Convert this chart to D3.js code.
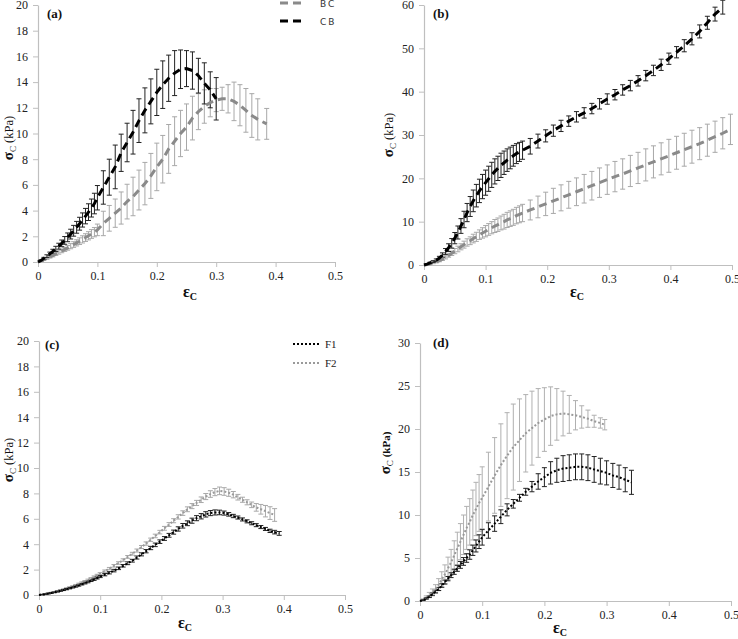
<!DOCTYPE html>
<html><head><meta charset="utf-8">
<script src="https://cdn.jsdelivr.net/npm/d3@7"></script>
<style>body{margin:0;background:#fff}</style>
</head><body>
<svg id="c" width="738" height="639"></svg>
<script>
// ---------- DATA ----------
const xTickValues = [0, 0.1, 0.2, 0.3, 0.4, 0.5];
const yTicksA = [0,2,4,6,8,10,12,14,16,18,20];
const yTicksB = [0,10,20,30,40,50,60];
const yTicksC = [0,2,4,6,8,10,12,14,16,18,20];
const yTicksD = [0,5,10,15,20,25,30];
const panelLabels = ["(a)", "(b)", "(c)", "(d)"];
const legendA = ["BC", "CB"];
const legendC = ["F1", "F2"];

// (a) CB (black dashed)
const aCB_x = [0,0.005,0.01,0.015,0.02,0.025,0.03,0.035,0.04,0.045,0.05,0.055,0.06,0.065,0.07,0.075,0.08,0.085,0.09,0.095,
  0.1,0.11,0.12,0.13,0.14,0.15,0.16,0.17,0.18,0.19,0.2,0.21,0.22,0.23,0.24,0.25,0.26,0.27,0.28,0.29,0.3];
const aCB_y = [0,0.12,0.28,0.45,0.63,0.82,1.02,1.23,1.45,1.68,1.92,2.17,2.43,2.7,2.98,3.27,3.57,3.88,4.2,4.55,
  5.0,5.8,6.6,7.4,8.5,9.3,10.1,11.0,11.8,12.5,13.2,13.8,14.3,14.7,15.0,15.05,14.9,14.5,13.9,13.4,12.7];
const aCB_err = [0,0.05,0.08,0.11,0.14,0.17,0.2,0.23,0.26,0.3,0.34,0.38,0.42,0.46,0.5,0.55,0.6,0.65,0.7,0.8,
  0.95,1.3,1.4,1.7,1.45,1.5,1.7,1.7,1.75,1.75,1.8,1.85,1.8,1.75,1.5,1.4,1.45,1.35,1.6,1.4,1.65];
// (a) BC (gray dashed)
const aBC_x = [0,0.005,0.01,0.015,0.02,0.025,0.03,0.035,0.04,0.045,0.05,0.055,0.06,0.065,0.07,0.075,0.08,0.085,0.09,0.095,
  0.1,0.11,0.12,0.13,0.14,0.15,0.16,0.17,0.18,0.19,0.2,0.21,0.22,0.23,0.24,0.25,0.26,0.27,0.28,0.29,0.3,0.31,0.32,0.33,0.34,0.35,0.36,0.37,0.385];
const aBC_y = [0,0.08,0.18,0.28,0.39,0.5,0.62,0.74,0.86,0.98,1.1,1.23,1.36,1.49,1.62,1.76,1.9,2.04,2.18,2.32,
  2.5,3.0,3.4,3.8,4.2,4.7,5.1,5.6,6.1,6.7,7.4,8.0,8.8,9.4,10.0,10.5,11.2,11.7,12.1,12.4,12.6,12.7,12.7,12.5,12.2,11.8,11.4,11.1,10.75];
const aBC_err = [0,0.04,0.05,0.07,0.08,0.1,0.11,0.13,0.14,0.16,0.18,0.2,0.22,0.24,0.26,0.28,0.3,0.32,0.34,0.36,
  0.45,0.95,1.0,1.1,1.25,1.35,1.5,1.55,1.65,1.75,1.85,1.85,1.9,1.9,1.8,1.8,1.7,1.4,1.3,1.1,0.9,0.9,1.1,1.5,1.6,1.7,1.7,1.6,1.2];

// (b) black dashed
const bBlk_x = [0,0.005,0.01,0.015,0.02,0.025,0.03,0.035,0.04,0.045,0.05,0.055,0.06,0.065,0.07,0.075,0.08,0.085,0.09,0.095,
  0.1,0.105,0.11,0.115,0.12,0.125,0.13,0.135,0.14,0.145,0.15,0.155,0.16,
  0.1725,0.185,0.1975,0.21,0.2225,0.235,0.2475,0.26,0.2725,0.285,0.2975,0.31,0.3225,0.335,0.3475,0.36,0.3725,0.385,0.3975,0.41,0.4225,0.435,0.4475,0.46,0.4725,0.485];
const bBlk_y = [0,0.2,0.5,0.8,1.1,1.6,2.3,3.1,4.0,5.0,6.2,7.5,9.0,10.5,12.1,13.5,14.8,16.0,17.1,18.1,
  19.0,19.9,20.8,21.6,22.3,23.0,23.6,24.2,24.7,25.2,25.7,26.1,26.5,
  27.4,28.6,29.8,31.0,32.1,33.2,34.2,35.1,36.1,37.2,38.3,39.3,40.4,41.4,42.5,43.7,44.9,46.2,47.6,49.1,50.6,52.2,53.9,55.9,57.9,59.5];
const bBlk_err = [0,0.1,0.15,0.2,0.3,0.4,0.5,0.7,0.9,1.1,1.3,1.5,1.7,1.9,2.1,2.3,2.5,2.6,2.7,2.8,
  2.9,2.9,2.9,2.9,2.8,2.8,2.7,2.6,2.5,2.4,2.3,2.2,2.1,
  1.8,1.6,1.4,1.3,1.3,1.2,1.2,1.2,1.2,1.2,1.2,1.2,1.2,1.2,1.2,1.2,1.2,1.3,1.3,1.3,1.4,1.4,1.5,1.5,1.6,1.6];
// (b) gray dashed
const bGry_x = [0,0.005,0.01,0.015,0.02,0.025,0.03,0.035,0.04,0.045,0.05,0.055,0.06,0.065,0.07,0.075,0.08,0.085,0.09,0.095,
  0.1,0.105,0.11,0.115,0.12,0.125,0.13,0.135,0.14,0.145,0.15,0.155,0.16,
  0.1725,0.185,0.1975,0.21,0.2225,0.235,0.2475,0.26,0.2725,0.285,0.2975,0.31,0.3225,0.335,0.3475,0.36,0.3725,0.385,0.3975,0.41,0.4225,0.435,0.4475,0.46,0.4725,0.485,0.4975];
const bGry_y = [0,0.1,0.25,0.45,0.7,1.0,1.35,1.75,2.2,2.7,3.2,3.7,4.2,4.7,5.2,5.6,6.1,6.5,7.0,7.4,
  7.8,8.2,8.6,9.0,9.3,9.7,10.0,10.4,10.7,11.0,11.4,11.7,12.0,
  12.7,13.4,14.1,14.8,15.5,16.2,16.9,17.6,18.3,19.0,19.7,20.4,21.0,21.7,22.4,23.1,23.8,24.5,25.2,25.9,26.6,27.3,28.0,28.8,29.6,30.4,31.3];
const bGry_err = [0,0.05,0.1,0.15,0.2,0.25,0.3,0.35,0.4,0.5,0.6,0.65,0.7,0.8,0.85,0.9,1.0,1.05,1.1,1.2,
  1.3,1.35,1.4,1.5,1.55,1.6,1.7,1.75,1.8,1.85,1.9,1.95,2.0,
  2.3,2.5,2.7,2.9,3.0,3.1,3.2,3.3,3.3,3.4,3.4,3.5,3.5,3.6,3.6,3.7,3.7,3.7,3.8,3.8,3.8,3.8,3.7,3.7,3.6,3.6,3.5];

// (c) F1 black dotted
const cF1_x = [0,0.005,0.01,0.015,0.02,0.025,0.03,0.035,0.04,0.045,0.05,0.055,0.06,0.065,0.07,0.075,0.08,0.085,0.09,0.095,
  0.1,0.1075,0.115,0.1225,0.13,0.1375,0.145,0.1525,0.16,0.1675,0.175,0.1825,0.19,0.1975,0.205,0.2125,0.22,0.2275,0.235,0.2425,
  0.25,0.2575,0.265,0.2725,0.28,0.2875,0.295,0.3025,0.31,0.3175,0.325,0.3325,0.34,0.3475,0.355,0.3625,0.37,0.3775,0.385,0.3925];
const cF1_y = [0,0.03,0.07,0.11,0.16,0.21,0.27,0.33,0.39,0.46,0.53,0.6,0.68,0.76,0.85,0.94,1.03,1.13,1.23,1.34,
  1.45,1.6,1.75,1.92,2.1,2.3,2.5,2.7,2.95,3.2,3.45,3.7,3.95,4.2,4.45,4.7,4.95,5.2,5.45,5.65,
  5.85,6.05,6.2,6.35,6.45,6.5,6.5,6.45,6.35,6.22,6.1,5.95,5.8,5.65,5.5,5.35,5.2,5.05,4.95,4.85];
const cF1_err = [0,0.02,0.02,0.03,0.03,0.03,0.04,0.04,0.04,0.05,0.05,0.05,0.06,0.06,0.06,0.07,0.07,0.07,0.08,0.08,
  0.08,0.09,0.09,0.1,0.1,0.1,0.11,0.11,0.12,0.12,0.13,0.13,0.14,0.14,0.15,0.15,0.16,0.17,0.18,0.19,
  0.2,0.2,0.21,0.21,0.2,0.2,0.18,0.16,0.14,0.13,0.12,0.12,0.12,0.12,0.12,0.12,0.12,0.13,0.14,0.15];
// (c) F2 gray dotted
const cF2_x = [0,0.005,0.01,0.015,0.02,0.025,0.03,0.035,0.04,0.045,0.05,0.055,0.06,0.065,0.07,0.075,0.08,0.085,0.09,0.095,
  0.1,0.1075,0.115,0.1225,0.13,0.1375,0.145,0.1525,0.16,0.1675,0.175,0.1825,0.19,0.1975,0.205,0.2125,0.22,0.2275,0.235,0.2425,
  0.25,0.2575,0.265,0.2725,0.28,0.2875,0.295,0.3025,0.31,0.3175,0.325,0.3325,0.34,0.3475,0.355,0.3625,0.37,0.3775,0.385];
const cF2_y = [0,0.03,0.08,0.13,0.18,0.24,0.3,0.37,0.44,0.52,0.6,0.68,0.77,0.87,0.97,1.07,1.18,1.3,1.42,1.55,
  1.68,1.88,2.08,2.3,2.52,2.75,3.0,3.25,3.5,3.78,4.05,4.35,4.65,4.95,5.25,5.55,5.85,6.15,6.45,6.75,
  7.0,7.25,7.5,7.75,7.95,8.1,8.2,8.15,8.05,7.9,7.7,7.5,7.3,7.1,6.9,6.75,6.6,6.45,6.3];
const cF2_err = [0,0.02,0.02,0.03,0.03,0.03,0.04,0.04,0.04,0.05,0.05,0.05,0.06,0.06,0.06,0.07,0.07,0.07,0.08,0.08,
  0.08,0.09,0.09,0.1,0.1,0.1,0.11,0.11,0.12,0.12,0.13,0.13,0.14,0.14,0.15,0.15,0.16,0.17,0.18,0.19,
  0.2,0.2,0.22,0.24,0.26,0.28,0.3,0.3,0.28,0.25,0.22,0.2,0.2,0.22,0.3,0.38,0.45,0.5,0.5];

// (d) gray dotted
const dGry_x = [0,0.005,0.01,0.015,0.02,0.025,0.03,0.035,0.04,0.045,0.05,0.055,0.06,0.065,0.07,0.075,0.08,0.085,0.09,0.095,
  0.1,0.11,0.12,0.13,0.14,0.15,0.16,0.17,0.18,0.19,0.2,0.21,0.22,0.23,0.24,0.25,0.26,0.27,0.28,0.29,0.297];
const dGry_y = [0,0.15,0.4,0.7,1.0,1.4,1.9,2.5,3.1,3.8,4.5,5.3,6.1,6.9,7.7,8.5,9.2,10.0,10.7,11.4,
  12.0,13.3,14.6,15.8,16.9,17.9,18.7,19.5,20.1,20.7,21.1,21.5,21.7,21.8,21.7,21.6,21.4,21.2,20.9,20.7,20.5];
const dGry_err = [0,0.1,0.2,0.3,0.4,0.5,0.7,0.9,1.1,1.3,1.5,1.7,1.9,2.1,2.3,2.5,2.7,2.9,3.1,3.3,
  3.6,4.0,4.4,4.8,5.0,5.0,4.8,4.5,4.3,4.0,3.7,3.4,3.0,2.6,2.2,1.7,1.3,1.0,0.7,0.6,0.6];
// (d) black dotted
const dBlk_x = [0,0.005,0.01,0.015,0.02,0.025,0.03,0.035,0.04,0.045,0.05,0.055,0.06,0.065,0.07,0.075,0.08,0.085,0.09,0.095,
  0.1,0.11,0.12,0.13,0.14,0.15,0.16,0.17,0.18,0.19,0.2,0.21,0.22,0.23,0.24,0.25,0.26,0.27,0.28,0.29,0.3,0.31,0.32,0.33,0.34];
const dBlk_y = [0,0.1,0.3,0.5,0.8,1.1,1.4,1.8,2.2,2.6,3.0,3.4,3.8,4.2,4.6,5.0,5.4,5.9,6.4,6.9,
  7.4,8.2,9.0,9.8,10.6,11.3,12.0,12.7,13.3,13.9,14.4,14.9,15.2,15.4,15.5,15.6,15.6,15.5,15.3,15.1,14.9,14.6,14.4,14.1,13.8];
const dBlk_err = [0,0.05,0.08,0.1,0.13,0.15,0.18,0.2,0.23,0.25,0.28,0.3,0.35,0.4,0.45,0.5,0.55,0.6,0.7,0.8,
  0.9,0.9,0.9,0.8,0.7,0.5,0.4,0.4,0.6,0.9,1.1,1.3,1.4,1.5,1.5,1.5,1.5,1.5,1.5,1.5,1.4,1.4,1.4,1.4,1.4];

// ---------- DRAW ----------
const svg = d3.select('#c');
svg.append('rect').attr('width',738).attr('height',639).attr('fill','#fff');
const SERIF = "'Liberation Serif','Times New Roman',serif";
const AXIS_COL = '#bfbfbf';

function zip(xs, ys, es){ return xs.map((v,i)=>({x:v, y:ys[i], e:es[i]})); }

const panels = [
  {label:panelLabels[0], left:38, right:335, top:5, bottom:262, yMax:20, yTicks:yTicksA,
   labelPos:[47,18], yTitle:[13,138], xTitle:[190,297], kpaBold:false,
   series:[
     {data:zip(aBC_x,aBC_y,aBC_err), line:'#8a8a8a', bar:'#a8a8a8', dash:'8,5', w:3},
     {data:zip(aCB_x,aCB_y,aCB_err), line:'#000', bar:'#222', dash:'8,5', w:3}
   ]},
  {label:panelLabels[1], left:424, right:732, top:5, bottom:265, yMax:60, yTicks:yTicksB,
   labelPos:[433,18], yTitle:[393,135], xTitle:[577,297], kpaBold:false,
   series:[
     {data:zip(bGry_x,bGry_y,bGry_err), line:'#8a8a8a', bar:'#a8a8a8', dash:'8,5', w:3},
     {data:zip(bBlk_x,bBlk_y,bBlk_err), line:'#000', bar:'#222', dash:'8,5', w:3}
   ]},
  {label:panelLabels[2], left:39, right:345, top:341, bottom:595, yMax:20, yTicks:yTicksC,
   labelPos:[45,349], yTitle:[13,460], xTitle:[185,628], kpaBold:false,
   series:[
     {data:zip(cF2_x,cF2_y,cF2_err), line:'#9a9a9a', bar:'#a8a8a8', dash:'2,2', w:2},
     {data:zip(cF1_x,cF1_y,cF1_err), line:'#000', bar:'#222', dash:'2,2', w:2}
   ]},
  {label:panelLabels[3], left:420, right:731, top:343, bottom:601, yMax:30, yTicks:yTicksD,
   labelPos:[433,347], yTitle:[390,453], xTitle:[560,633], kpaBold:true,
   series:[
     {data:zip(dGry_x,dGry_y,dGry_err), line:'#999', bar:'#b0b0b0', dash:'2,2', w:2},
     {data:zip(dBlk_x,dBlk_y,dBlk_err), line:'#000', bar:'#222', dash:'2,2', w:2}
   ]}
];

panels.forEach(p=>{
  const x = d3.scaleLinear().domain([0,0.5]).range([p.left,p.right]);
  const y = d3.scaleLinear().domain([0,p.yMax]).range([p.bottom,p.top]);
  const g = svg.append('g');

  const xa = g.append('g').attr('transform',`translate(0,${p.bottom})`)
    .call(d3.axisBottom(x).tickValues(xTickValues).tickSize(5).tickSizeOuter(0).tickPadding(4)
      .tickFormat(d=>d===0?'0':d.toFixed(1)));
  const ya = g.append('g').attr('transform',`translate(${p.left},0)`)
    .call(d3.axisLeft(y).tickValues(p.yTicks).tickSize(5).tickSizeOuter(0).tickPadding(5));
  [xa,ya].forEach(a=>{
    a.attr('font-family',SERIF);
    a.select('.domain').attr('stroke',AXIS_COL).attr('stroke-width',1.2);
    a.selectAll('.tick line').attr('stroke',AXIS_COL).attr('stroke-width',1);
    a.selectAll('.tick text').attr('fill','#222').style('font-family',SERIF).style('font-size','12px');
  });

  p.series.forEach(s=>{
    const eb = g.append('g').attr('stroke',s.bar).attr('stroke-width',1).attr('fill','none');
    s.data.filter(d=>d.e>0).forEach(d=>{
      const cx = x(d.x), t = y(d.y+d.e), b = y(d.y-d.e);
      eb.append('line').attr('x1',cx).attr('x2',cx).attr('y1',t).attr('y2',b);
      eb.append('line').attr('x1',cx-2.5).attr('x2',cx+2.5).attr('y1',t).attr('y2',t);
      eb.append('line').attr('x1',cx-2.5).attr('x2',cx+2.5).attr('y1',b).attr('y2',b);
    });
  });
  p.series.forEach(s=>{
    g.append('path').datum(s.data)
      .attr('d', d3.line().x(d=>x(d.x)).y(d=>y(d.y)))
      .attr('fill','none').attr('stroke',s.line).attr('stroke-width',s.w)
      .attr('stroke-dasharray',s.dash);
  });

  // panel label
  g.append('text').attr('x',p.labelPos[0]).attr('y',p.labelPos[1])
    .style('font-family',SERIF).style('font-size','13px').style('font-weight','bold').attr('fill','#111')
    .text(p.label);

  // y title
  const yt = g.append('text').attr('transform',`translate(${p.yTitle[0]},${p.yTitle[1]}) rotate(-90)`)
    .attr('text-anchor','middle').style('font-family',SERIF).attr('fill','#111');
  yt.append('tspan').style('font-size','15px').style('font-weight','bold').text('σ');
  yt.append('tspan').style('font-size','9px').attr('dy',3).text('C');
  yt.append('tspan').attr('dy',-3).style('font-size',p.kpaBold?'11px':'12.5px')
    .style('font-weight',p.kpaBold?'bold':'normal').text(' (kPa)');

  // x title
  const xt = g.append('text').attr('x',p.xTitle[0]).attr('y',p.xTitle[1]).attr('text-anchor','middle')
    .style('font-family',SERIF).attr('fill','#111').style('font-weight','bold');
  xt.append('tspan').style('font-size','16px').text('ε');
  xt.append('tspan').style('font-size','10px').attr('dy',2.5).text('C');
});

// legend (a)
const lgA = svg.append('g');
const lgAStyles = [{c:'#8a8a8a', y:3}, {c:'#000', y:21}];
legendA.forEach((t,i)=>{
  lgA.append('line').attr('x1',280).attr('x2',305).attr('y1',lgAStyles[i].y).attr('y2',lgAStyles[i].y)
    .attr('stroke',lgAStyles[i].c).attr('stroke-width',3).attr('stroke-dasharray','8,5');
  lgA.append('text').attr('x',320).attr('y',lgAStyles[i].y+3.5).style('font-family',"'DejaVu Sans',sans-serif")
    .style('font-size','9px').style('letter-spacing','2px').attr('fill','#333').text(t);
});
// legend (c)
const lgC = svg.append('g');
const lgCStyles = [{c:'#000', y:344}, {c:'#9a9a9a', y:363}];
legendC.forEach((t,i)=>{
  lgC.append('line').attr('x1',293).attr('x2',320).attr('y1',lgCStyles[i].y).attr('y2',lgCStyles[i].y)
    .attr('stroke',lgCStyles[i].c).attr('stroke-width',2).attr('stroke-dasharray','2,2');
  lgC.append('text').attr('x',325).attr('y',lgCStyles[i].y+4).style('font-family',SERIF)
    .style('font-size','11px').attr('fill','#222').text(t);
});
</script>
</body></html>
